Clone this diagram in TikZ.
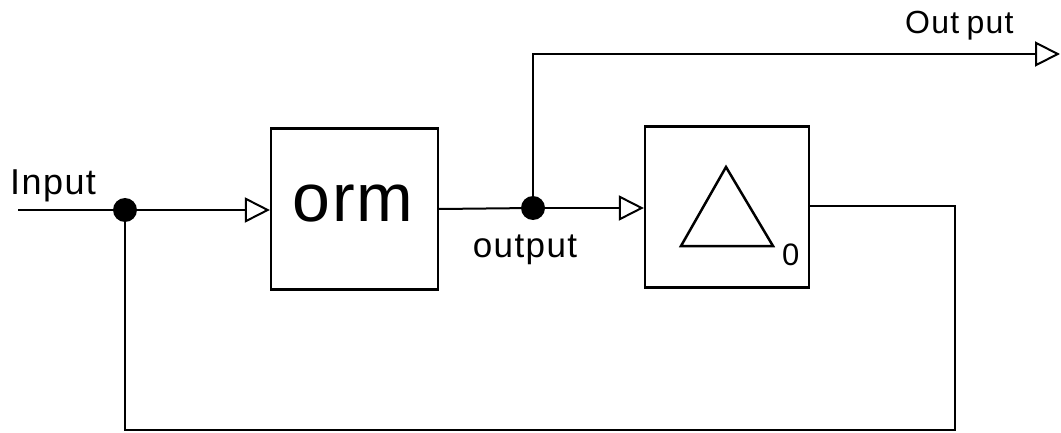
\documentclass[tikz,border=0pt]{standalone}
\usepackage{fontspec}
\setmainfont{Liberation Sans}
\usetikzlibrary{arrows.meta}

\tikzset{
  wire/.style={line width=2pt},
  flow/.style={wire, -{Triangle[open,length=25pt,width=25pt,line width=2pt]}},
  block/.style={draw, line width=2.2pt, rectangle, inner sep=0pt},
  junction/.style={circle, fill=black, inner sep=0pt, minimum size=24pt},
  lbl/.style={inner sep=0pt, anchor=base west},
}
\newcommand{\fsz}[1]{\fontsize{#1}{#1}\selectfont}

\begin{document}
\begin{tikzpicture}[x=1pt, y=-1pt]
  \useasboundingbox (0,0) rectangle (1061,433);

  % blocks
  \node[block, minimum width=167pt, minimum height=161pt] (orm) at (354.5,209) {};
  \node[block, minimum width=164pt, minimum height=161pt] (delta) at (727,207) {};

  % junction points
  \node[junction] (j1) at (125,210) {};
  \node[junction] (j2) at (533,208) {};

  % free ends and corners
  \coordinate (in) at (18,210);
  \coordinate (outend) at (1060,54);
  \coordinate (fr) at (955,206);
  \coordinate (frb) at (955,430);
  \coordinate (flb) at (125,430);

  % forward path
  \draw[wire] (in) -- (j1);
  \draw[flow] (j1) -- (orm.west |- j1);
  \draw[wire] (orm.east |- 0,209) -- (j2);
  \draw[flow] (j2) -- (delta.west |- j2);

  % output branch
  \draw[flow] (j2) |- (outend);

  % feedback loop
  \draw[wire] (delta.east |- fr) -- (fr) -- (frb) -- (flb) -- (j1);

  % symbol inside the second block
  \draw[line width=2.5pt, line join=miter] (726,167) -- (681,246) -- (773,246) -- cycle;

  % labels
  \node[lbl] (tin) at (10,195) {\fsz{36pt}\addfontfeature{LetterSpace=4}Input};
  \node[inner sep=0pt, anchor=base] (torm) at (353,222) {\fsz{68pt}\addfontfeature{LetterSpace=3}orm};
  \node[inner sep=0pt, anchor=base] (tmid) at (525,257) {\fsz{35pt}\addfontfeature{LetterSpace=4}output};
  \node[lbl] (tout) at (905,34) {\fsz{32pt}\addfontfeature{LetterSpace=4}Out\kern-3pt\ put};
  \node[lbl] (tzero) at (782,265) {\fsz{31pt}0};
\end{tikzpicture}
\end{document}
